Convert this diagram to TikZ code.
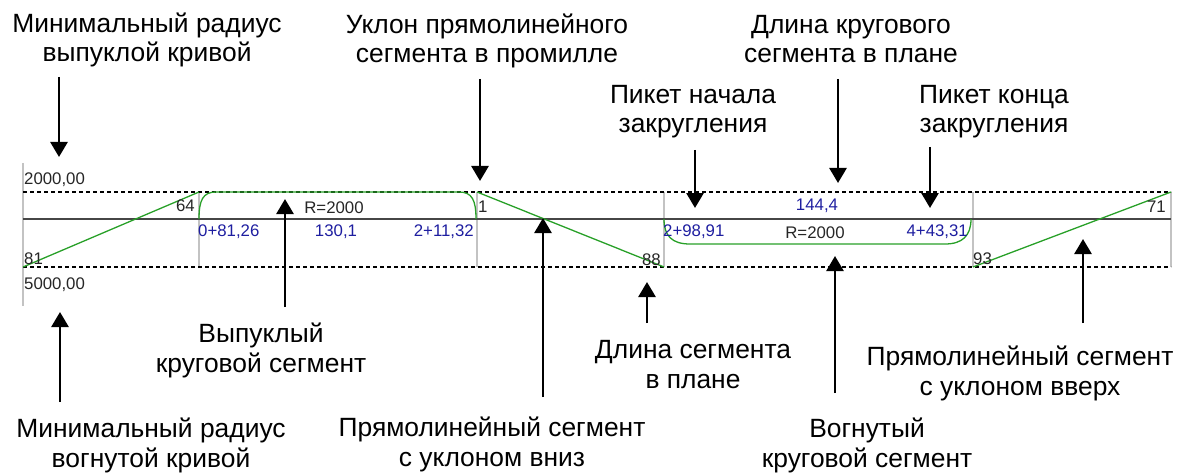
\documentclass[tikz,border=0pt]{standalone}
\usepackage{fontspec}
\setmainfont{Liberation Sans}
\usetikzlibrary{arrows.meta}
\definecolor{grn}{RGB}{40,160,40}
\definecolor{vblue}{RGB}{30,30,160}
\definecolor{vgray}{RGB}{195,195,195}
\definecolor{mgray}{RGB}{70,70,70}
\begin{document}
\begin{tikzpicture}[x=1pt,y=-1pt,
  lbl/.style={font=\fontsize{26.4}{29.5}\selectfont, align=center, anchor=base, inner sep=0pt},
  sm/.style={font=\fontsize{16.8}{18}\selectfont, inner sep=0pt},
  smb/.style={sm, text=vblue},
  smk/.style={sm, text=black!85},
  arr/.style={line width=2.7pt, -{Triangle[length=15pt,width=17pt]}},
  gridline/.style={vgray, line width=1.2pt},
  dashline/.style={black, line width=1.2pt, dash pattern=on 4pt off 3pt},
  road/.style={grn, line width=1.3pt}
]
\useasboundingbox (0,0) rectangle (1190,473);
% band frame
\coordinate (L1) at (23,163); \coordinate (L2) at (23,306);
\draw[gridline] (L1) -- (L2);
\foreach \x/\n in {199/a,477/b,664/c,973/d,1171/e}{
  \coordinate (v\n1) at (\x,192); \coordinate (v\n2) at (\x,267);
  \draw[gridline] (v\n1) -- (v\n2);
}
\coordinate (m1) at (23,219); \coordinate (m2) at (1171,219);
\draw[mgray, line width=1.5pt] (m1) -- (m2);
\coordinate (dt1) at (23,192); \coordinate (dt2) at (1171,192);
\coordinate (db1) at (23,267); \coordinate (db2) at (1171,267);
\draw[dashline] (dt1) -- (dt2);
\draw[dashline] (db1) -- (db2);
% profile
\coordinate (p0) at (23,267);
\coordinate (p1) at (199,192);
\draw[road] (p0) -- (p1);
\draw[road] (199,219) .. controls (199,200) and (203,192) .. (216,192) -- (459,192) .. controls (472,192) and (476,200) .. (476,219);
\coordinate (p2) at (477,192); \coordinate (p3) at (664,267);
\draw[road] (p2) -- (p3);
\draw[road] (664,219) .. controls (664,236) and (672,244) .. (690,244) -- (945,244) .. controls (962,244) and (971,236) .. (971,219);
\coordinate (p4) at (973,267); \coordinate (p5) at (1171,192);
\draw[road] (p4) -- (p5);
% small labels
\node[smk, anchor=base west] (s1) at (24,185) {2000,00};
\node[smk, anchor=base west] (s2) at (24,289) {5000,00};
\node[smk, anchor=base west] (s3) at (24,264) {81};
\node[smk, anchor=base east] (s4) at (195,211) {64};
\node[smk, anchor=base] (s5) at (334,213) {R=2000};
\node[smb, anchor=base west] (s6) at (198,236) {0+81,26};
\node[smb, anchor=base] (s7) at (336,236) {130,1};
\node[smb, anchor=base east] (s8) at (474,236) {2+11,32};
\node[smk, anchor=base west] (s9) at (478,212) {1};
\node[smk, anchor=base east] (s10) at (661,265) {88};
\node[smb, anchor=base west] (s11) at (663,236) {2+98,91};
\node[smk, anchor=base] (s12) at (815,238) {R=2000};
\node[smb, anchor=base] (s13) at (817,210) {144,4};
\node[smb, anchor=base east] (s14) at (968,236) {4+43,31};
\node[smk, anchor=base west] (s15) at (973,264) {93};
\node[smk, anchor=base east] (s16) at (1166,212) {71};
% callout labels (anchor = baseline of the last line)
\node[lbl] (t1) at (147,62) {Минимальный радиус\\выпуклой кривой};
\node[lbl] (t2) at (487,63) {Уклон прямолинейного\\сегмента в промилле};
\node[lbl] (t3) at (851,63) {Длина кругового\\сегмента в плане};
\node[lbl] (t4) at (693,133) {Пикет начала\\закругления};
\node[lbl] (t5) at (994,133) {Пикет конца\\закругления};
\node[lbl] (b1) at (151,467) {Минимальный радиус\\вогнутой кривой};
\node[lbl] (b2) at (261,372) {Выпуклый\\круговой сегмент};
\node[lbl] (b3) at (492,466) {Прямолинейный сегмент\\с уклоном вниз};
\node[lbl] (b4) at (693,388) {Длина сегмента\\в плане};
\node[lbl] (b5) at (867,467) {Вогнутый\\круговой сегмент};
\node[lbl] (b6) at (1020,395) {Прямолинейный сегмент\\с уклоном вверх};
% arrows
\foreach \n/\xa/\ya/\xb/\yb in {
  1/59/77/59/157, 2/480/79/480/181, 3/695/150/695/208, 4/838/79/838/183,
  5/930/147/930/208, 6/60/402/60/312, 7/285/307/285/199, 8/543/397/543/218,
  9/647/323/647/282, 10/835/393/835/256, 11/1083/323/1083/239}{
  \coordinate (as\n) at (\xa,\ya); \coordinate (ae\n) at (\xb,\yb);
  \draw[arr] (as\n) -- (ae\n);
}
\end{tikzpicture}
\end{document}
